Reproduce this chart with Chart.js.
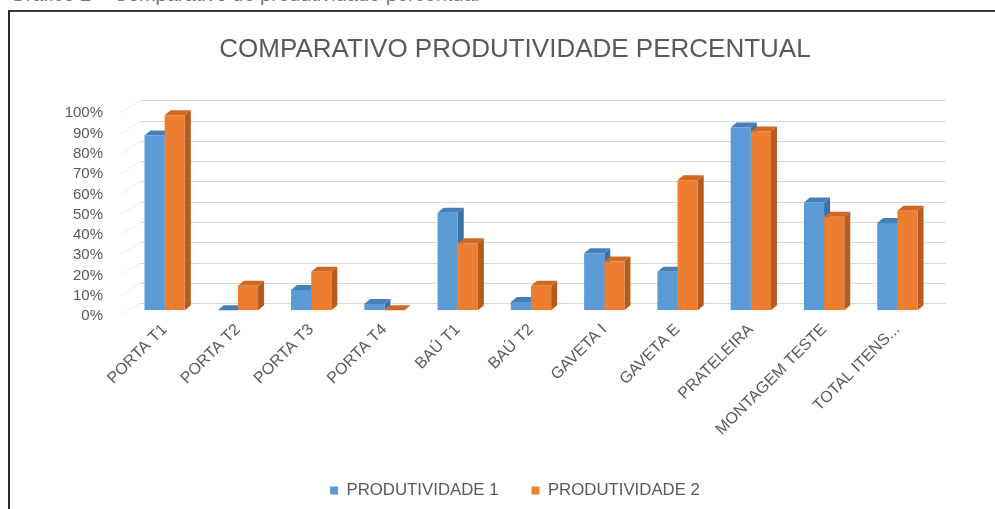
<!DOCTYPE html>
<html>
<head>
<meta charset="utf-8">
<script src="https://cdn.jsdelivr.net/npm/chart.js@4.4.1/dist/chart.umd.min.js"></script>
<style>
  html, body { margin: 0; padding: 0; width: 995px; height: 509px; overflow: hidden; background: #fff; }
  #caption { position: absolute; left: 10px; top: -17px; font-family: "Liberation Sans", Arial, sans-serif; font-size: 20px; line-height: 23px; color: #777; white-space: nowrap; }
  #frameTop { position: absolute; left: 8px; top: 10px; width: 990px; height: 2px; background: #3a3a3a; }
  #frameLeft { position: absolute; left: 8px; top: 10px; width: 2px; height: 500px; background: #2a2a2a; }
  #wrap { position: absolute; left: 10px; top: 12px; width: 1010px; height: 497px; }
</style>
</head>
<body>
<div id="caption">Gráfico 2 – Comparativo de produtividade percentual</div>
<div id="frameTop"></div>
<div id="frameLeft"></div>
<div id="wrap"><canvas id="c"></canvas></div>
<script>
const categories = ["PORTA T1", "PORTA T2", "PORTA T3", "PORTA T4", "BAÚ T1", "BAÚ T2", "GAVETA I", "GAVETA E", "PRATELEIRA", "MONTAGEM TESTE", "TOTAL ITENS..."];
const produtividade1 = [86, 0, 10, 3, 48, 4, 28, 19, 90, 53, 43];
const produtividade2 = [96, 12, 19, 0, 33, 12, 24, 64, 88, 46, 49];
const yTickValues = [0, 10, 20, 30, 40, 50, 60, 70, 80, 90, 100];
const yTickLabels = ["0%", "10%", "20%", "30%", "40%", "50%", "60%", "70%", "80%", "90%", "100%"];
const seriesNames = ["PRODUTIVIDADE 1", "PRODUTIVIDADE 2"];

const DX = 6, DY = -5;       // bar depth
const WX = 12, WY = -7;      // back wall offset

const depthPlugin = {
  id: 'depth3d',
  beforeDatasetsDraw(chart) {
    const { ctx, chartArea, scales } = chart;
    const y = scales.y;
    ctx.save();
    ctx.lineWidth = 1;
    ctx.strokeStyle = '#ececec';
    yTickValues.forEach(v => {
      const py = Math.round(y.getPixelForValue(v)) + 0.5;
      ctx.beginPath();
      ctx.moveTo(chartArea.left - 7, py + 5);
      ctx.lineTo(chartArea.left + WX, py + WY);
      ctx.stroke();
    });
    ctx.strokeStyle = '#d9d9d9';
    yTickValues.forEach(v => {
      const py = Math.round(y.getPixelForValue(v) + WY) + 0.5;
      ctx.beginPath();
      ctx.moveTo(chartArea.left + WX, py);
      ctx.lineTo(chartArea.right + WX, py);
      ctx.stroke();
    });
    chart.data.datasets.forEach((ds, i) => {
      const meta = chart.getDatasetMeta(i);
      meta.data.forEach(bar => {
        const p = bar.getProps(['x', 'y', 'base', 'width'], true);
        const l = p.x - p.width / 2, r = p.x + p.width / 2;
        const top = Math.min(p.y, p.base), base = Math.max(p.y, p.base);
        ctx.fillStyle = ds.sideColor;
        ctx.beginPath();
        ctx.moveTo(r, top); ctx.lineTo(r + DX, top + DY);
        ctx.lineTo(r + DX, base + DY); ctx.lineTo(r, base);
        ctx.closePath(); ctx.fill();
        ctx.fillStyle = ds.topColor;
        ctx.beginPath();
        ctx.moveTo(l, top); ctx.lineTo(l + DX, top + DY);
        ctx.lineTo(r + DX, top + DY); ctx.lineTo(r, top);
        ctx.closePath(); ctx.fill();
      });
    });
    ctx.restore();
  }
};

new Chart(document.getElementById('c'), {
  type: 'bar',
  data: {
    labels: categories,
    datasets: [
      { label: seriesNames[0], data: produtividade1, backgroundColor: '#5B9BD5', sideColor: '#3A72A8', topColor: '#4680B8', borderWidth: 0 },
      { label: seriesNames[1], data: produtividade2, backgroundColor: '#ED7D31', sideColor: '#B65A1E', topColor: '#CF6823', borderWidth: 0 }
    ]
  },
  plugins: [depthPlugin],
  options: {
    responsive: true,
    maintainAspectRatio: false,
    animation: false,
    events: [],
    layout: { padding: { left: 0, right: 0, top: 0, bottom: 0 } },
    datasets: { bar: { categoryPercentage: 0.55, barPercentage: 1.0 } },
    plugins: {
      title: {
        display: true,
        text: 'COMPARATIVO PRODUTIVIDADE PERCENTUAL',
        color: '#595959',
        font: { family: 'Liberation Sans', size: 26, weight: 'normal', lineHeight: 1.2 },
        padding: { top: 22, bottom: 42 }
      },
      legend: {
        display: true,
        position: 'bottom',
        labels: {
          color: '#595959',
          font: { family: 'Liberation Sans', size: 16.8 },
          usePointStyle: true,
          pointStyle: 'rect',
          boxWidth: 8,
          boxHeight: 8,
          padding: 33
        }
      },
      tooltip: { enabled: false }
    },
    scales: {
      x: {
        grid: { display: false },
        border: { display: false },
        ticks: {
          color: '#595959',
          font: { family: 'Liberation Sans', size: 16 },
          minRotation: 45,
          maxRotation: 45,
          padding: 2,
          autoSkip: false
        },
        afterFit(scale) { scale.height = 139; }
      },
      y: {
        min: 0,
        max: 100,
        grid: { display: false },
        border: { display: false },
        ticks: {
          stepSize: 10,
          autoSkip: false,
          color: '#595959',
          font: { family: 'Liberation Sans', size: 15 },
          padding: 17,
          labelOffset: 6,
          callback: (v) => yTickLabels[yTickValues.indexOf(v)]
        },
        afterFit(scale) { scale.width = 118; }
      },
      yRight: {
        position: 'right',
        min: 0,
        max: 100,
        grid: { display: false, drawTicks: false },
        border: { display: false },
        ticks: { display: false },
        afterFit(scale) { scale.width = 86; }
      }
    }
  }
});
</script>
</body>
</html>
